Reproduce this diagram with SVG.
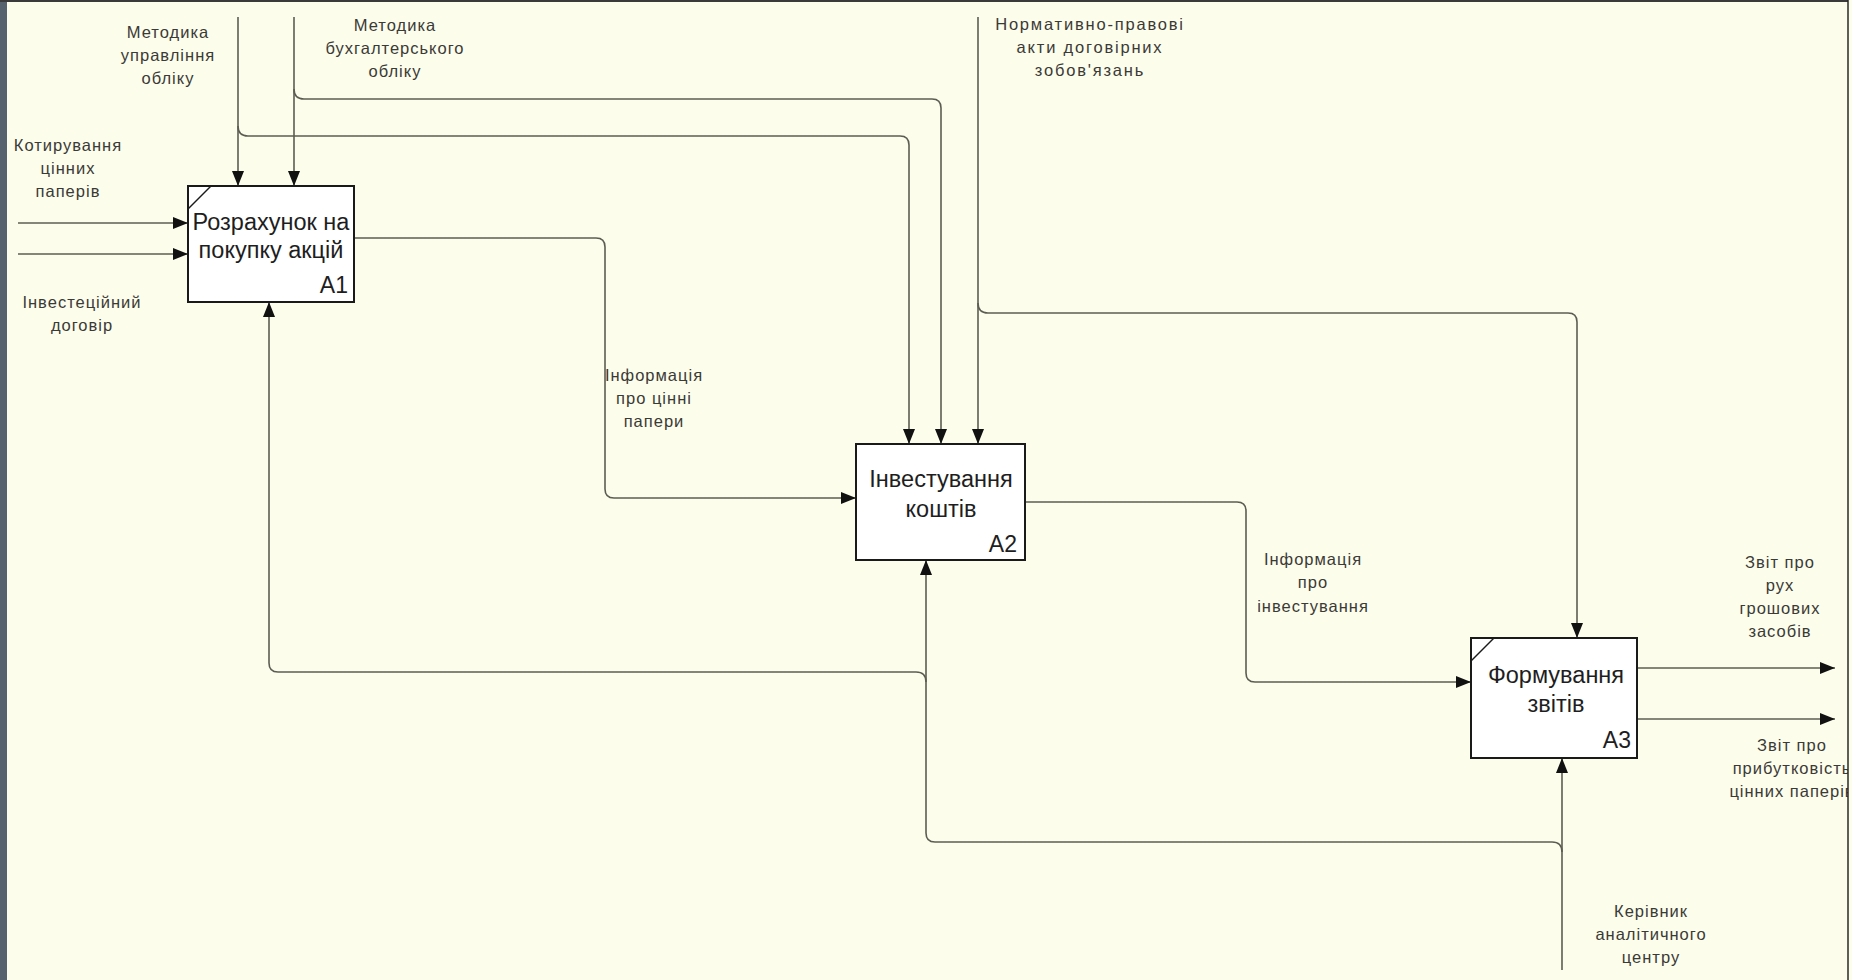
<svg xmlns="http://www.w3.org/2000/svg" width="1852" height="980" viewBox="0 0 1852 980">
<defs>
<marker id="arr" markerUnits="userSpaceOnUse" markerWidth="15" markerHeight="12" refX="15" refY="6" orient="auto"><path d="M0,0 L15,6 L0,12 z" fill="#111"/></marker>
<style>
.bg{fill:#FDFDEC}
.box{fill:#FFFFFF;stroke:#1a1a1a;stroke-width:2}
.diag{stroke:#1a1a1a;stroke-width:1.5}
.c{fill:none;stroke:#5c5c52;stroke-width:1.6}
.a{marker-end:url(#arr)}
.t{font-family:"Liberation Sans",Arial,sans-serif;font-size:23.5px;fill:#1e1e1e;text-anchor:middle}
.id{font-family:"Liberation Sans",Arial,sans-serif;font-size:23px;fill:#1e1e1e;text-anchor:end}
.l{font-family:"Liberation Sans",Arial,sans-serif;font-size:16.5px;letter-spacing:1px;fill:#3a3a36;text-anchor:middle}
.w{letter-spacing:1.8px}
</style>
</defs>
<rect class="bg" x="0" y="0" width="1852" height="980"/>
<rect x="0" y="0" width="7" height="980" fill="#56626e"/>
<rect x="0" y="0" width="1852" height="2" fill="#3a3a3a"/>

<g id="connectors">
<path class="c a" d="M238,17 V186"/>
<path class="c a" d="M238,126 Q238,136 248,136 H900 Q909,136 909,145 V444"/>
<path class="c a" d="M294,17 V186"/>
<path class="c a" d="M294,89 Q294,99 304,99 H932 Q941,99 941,108 V444"/>
<path class="c a" d="M978,17 V444"/>
<path class="c a" d="M978,303 Q978,313 988,313 H1568 Q1577,313 1577,322 V638"/>
<path class="c a" d="M18,223 H188"/>
<path class="c a" d="M18,254 H188"/>
<path class="c a" d="M354,238 H596 Q605,238 605,247 V489 Q605,498 614,498 H856"/>
<path class="c a" d="M1025,502 H1237 Q1246,502 1246,511 V673 Q1246,682 1255,682 H1471"/>
<path class="c a" d="M1637,668 H1835"/>
<path class="c a" d="M1637,719 H1835"/>
<path class="c a" d="M1562,970 V758"/>
<path class="c a" d="M1562,852 Q1562,842 1552,842 H935 Q926,842 926,833 V560"/>
<path class="c a" d="M926,682 Q926,672 916,672 H278 Q269,672 269,663 V302"/>
</g>

<g id="A1">
<rect class="box" x="188" y="186" width="166" height="116"/>
<line class="diag" x1="188" y1="209" x2="211" y2="186"/>
<text class="t" x="271" y="230">Розрахунок на</text>
<text class="t" x="271" y="258">покупку акцій</text>
<text class="id" x="348" y="293">A1</text>
</g>

<g id="A2">
<rect class="box" x="856" y="444" width="169" height="116"/>
<text class="t" x="941" y="487">Інвестування</text>
<text class="t" x="941" y="517">коштів</text>
<text class="id" x="1017" y="552">A2</text>
</g>

<g id="A3">
<rect class="box" x="1471" y="638" width="166" height="120"/>
<line class="diag" x1="1471" y1="661" x2="1494" y2="638"/>
<text class="t" x="1556" y="683">Формування</text>
<text class="t" x="1556" y="712">звітів</text>
<text class="id" x="1631" y="748">A3</text>
</g>

<g id="labels">
<text class="l" x="168" y="38">Методика</text>
<text class="l" x="168" y="61">управління</text>
<text class="l" x="168" y="84">обліку</text>
<text class="l" x="395" y="31">Методика</text>
<text class="l" x="395" y="54">бухгалтерського</text>
<text class="l" x="395" y="77">обліку</text>
<text class="l w" x="1090" y="30">Нормативно-правові</text>
<text class="l w" x="1090" y="53">акти договірних</text>
<text class="l w" x="1090" y="76">зобов'язань</text>
<text class="l" x="68" y="151">Котирування</text>
<text class="l" x="68" y="174">цінних</text>
<text class="l" x="68" y="197">паперів</text>
<text class="l" x="82" y="308">Інвестеційний</text>
<text class="l" x="82" y="331">договір</text>
<text class="l" x="654" y="381">Інформація</text>
<text class="l" x="654" y="404">про цінні</text>
<text class="l" x="654" y="427">папери</text>
<text class="l" x="1313" y="565">Інформація</text>
<text class="l" x="1313" y="588">про</text>
<text class="l" x="1313" y="612">інвестування</text>
<text class="l" x="1780" y="568">Звіт про</text>
<text class="l" x="1780" y="591">рух</text>
<text class="l" x="1780" y="614">грошових</text>
<text class="l" x="1780" y="637">засобів</text>
<text class="l" x="1792" y="751">Звіт про</text>
<text class="l" x="1792" y="774">прибутковість</text>
<text class="l" x="1792" y="797">цінних паперів</text>
<text class="l" x="1651" y="917">Керівник</text>
<text class="l" x="1651" y="940">аналітичного</text>
<text class="l" x="1651" y="963">центру</text>
</g>
<rect class="bg" x="1848" y="0" width="4" height="980"/>
<line x1="1848" y1="0" x2="1848" y2="980" stroke="#2a2a2a" stroke-width="1.5"/>
</svg>
